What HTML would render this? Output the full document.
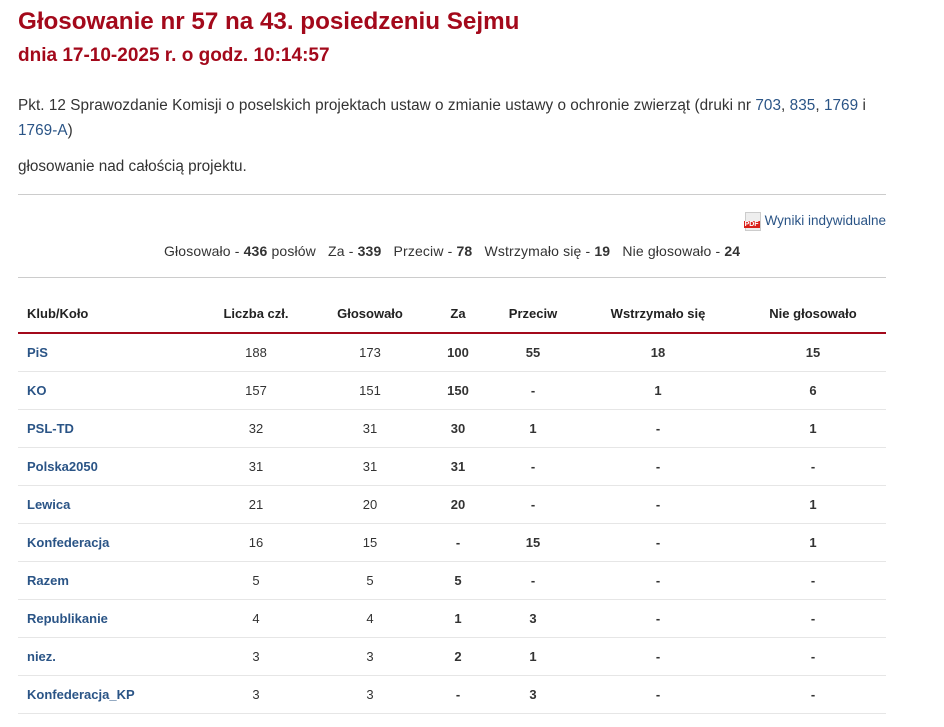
<!DOCTYPE html>
<html><head><meta charset="utf-8"><style>
body{margin:0;background:#fff;width:944px;height:727px;overflow:hidden;font-family:"Liberation Sans",sans-serif;color:#333;position:relative}
.a{position:absolute;white-space:nowrap}
h1{position:absolute;left:18px;top:8px;margin:0;font-size:24.2px;color:#a3091b;font-weight:bold}
h2{position:absolute;left:18px;top:45px;margin:0;font-size:19px;color:#a3091b;font-weight:bold}
.t{font-size:15.3px}
a{color:#2a5486;text-decoration:none}
.hr{position:absolute;left:18px;width:868px;height:1px;background:#ccc}
table{position:absolute;left:18px;top:294px;width:868px;border-collapse:collapse;font-size:13px}
th{height:38px;font-weight:bold;color:#222;border-bottom:2px solid #a3091b;text-align:center;padding:0}
td{height:37px;border-bottom:1px solid #e6e6e6;text-align:center;padding:0}
td:first-child,th:first-child{text-align:left;padding-left:9px}
td:first-child{font-weight:bold;color:#2a5486}
.b{font-weight:bold}
</style></head><body>
<h1>Głosowanie nr 57 na 43. posiedzeniu Sejmu</h1>
<h2>dnia 17-10-2025 r. o godz. 10:14:57</h2>
<div class="a t" style="left:18px;top:93px;line-height:25px;white-space:normal;width:900px;letter-spacing:0.05px">Pkt. 12 Sprawozdanie Komisji o poselskich projektach ustaw o zmianie ustawy o ochronie zwierząt (druki nr <a>703</a>, <a>835</a>, <a>1769</a> i<br><a>1769-A</a>)</div>
<div class="a t" style="left:18px;top:158px">głosowanie nad całością projektu.</div>
<div class="hr" style="top:194px"></div>
<div class="a" style="right:58px;top:212px;font-size:13.5px"><span style="display:inline-block;width:14px;height:17px;background:#eee;border:1px solid #ccc;vertical-align:middle;position:relative;margin-right:4px"><span style="position:absolute;left:-2px;bottom:2px;background:#d9211b;color:#fff;font-size:7px;font-weight:bold;padding:0 1px">PDF</span></span><a>Wyniki indywidualne</a></div>
<div class="a" style="left:164px;top:243px;font-size:14px;letter-spacing:0.15px">Głosowało - <b>436</b> posłów &nbsp; Za - <b>339</b> &nbsp; Przeciw - <b>78</b> &nbsp; Wstrzymało się - <b>19</b> &nbsp; Nie głosowało - <b>24</b></div>
<div class="hr" style="top:277px"></div>
<table>
<colgroup><col style="width:180px"><col style="width:116px"><col style="width:112px"><col style="width:64px"><col style="width:86px"><col style="width:164px"><col style="width:146px"></colgroup>
<tr><th>Klub/Koło</th><th>Liczba czł.</th><th>Głosowało</th><th>Za</th><th>Przeciw</th><th>Wstrzymało się</th><th>Nie głosowało</th></tr>
<tr><td>PiS</td><td>188</td><td>173</td><td class="b">100</td><td class="b">55</td><td class="b">18</td><td class="b">15</td></tr>
<tr><td>KO</td><td>157</td><td>151</td><td class="b">150</td><td class="b">-</td><td class="b">1</td><td class="b">6</td></tr>
<tr><td>PSL-TD</td><td>32</td><td>31</td><td class="b">30</td><td class="b">1</td><td class="b">-</td><td class="b">1</td></tr>
<tr><td>Polska2050</td><td>31</td><td>31</td><td class="b">31</td><td class="b">-</td><td class="b">-</td><td class="b">-</td></tr>
<tr><td>Lewica</td><td>21</td><td>20</td><td class="b">20</td><td class="b">-</td><td class="b">-</td><td class="b">1</td></tr>
<tr><td>Konfederacja</td><td>16</td><td>15</td><td class="b">-</td><td class="b">15</td><td class="b">-</td><td class="b">1</td></tr>
<tr><td>Razem</td><td>5</td><td>5</td><td class="b">5</td><td class="b">-</td><td class="b">-</td><td class="b">-</td></tr>
<tr><td>Republikanie</td><td>4</td><td>4</td><td class="b">1</td><td class="b">3</td><td class="b">-</td><td class="b">-</td></tr>
<tr><td>niez.</td><td>3</td><td>3</td><td class="b">2</td><td class="b">1</td><td class="b">-</td><td class="b">-</td></tr>
<tr><td>Konfederacja_KP</td><td>3</td><td>3</td><td class="b">-</td><td class="b">3</td><td class="b">-</td><td class="b">-</td></tr>
</table>
</body></html>
